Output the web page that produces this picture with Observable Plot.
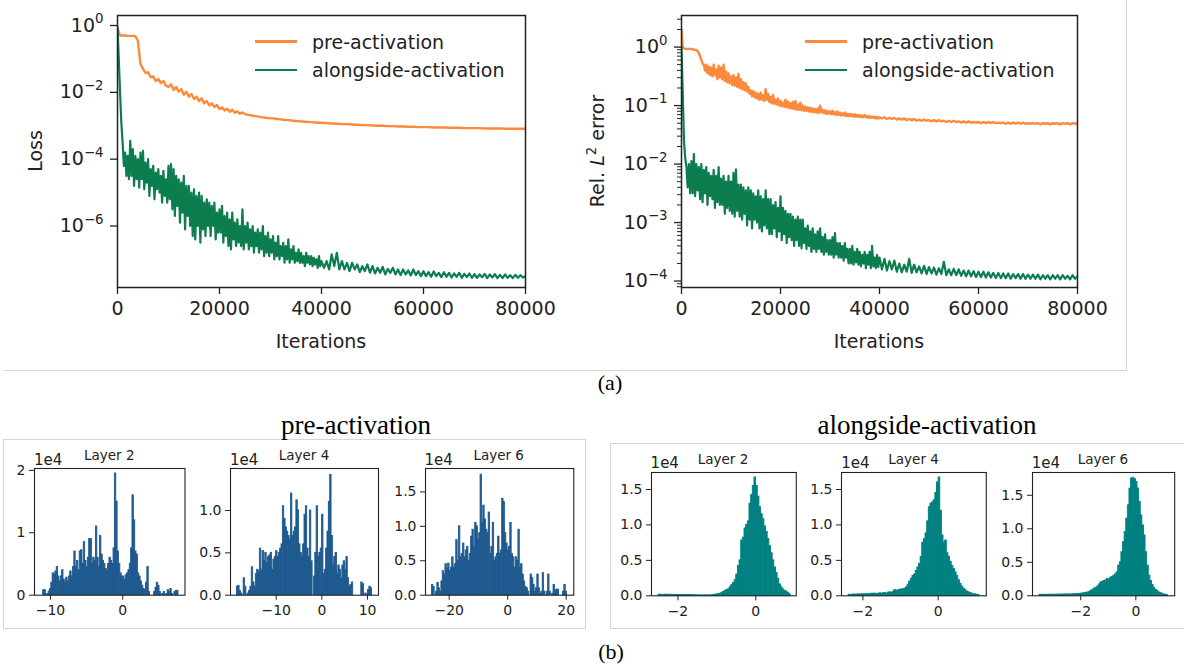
<!DOCTYPE html>
<html>
<head>
<meta charset="utf-8">
<script src="https://cdn.jsdelivr.net/npm/d3@7"></script>
<script src="https://cdn.jsdelivr.net/npm/@observablehq/plot@0.6"></script>
<style>
html,body{margin:0;padding:0;background:#fff;}
#fig{position:relative;width:1184px;height:665px;overflow:hidden;background:#fff;font-family:"DejaVu Sans",sans-serif;color:#222;}
#fig svg{position:absolute;overflow:visible;}
.t{position:absolute;white-space:nowrap;line-height:1;}
.serif{font-family:"Liberation Serif","Times New Roman",serif;color:#000;}
.rule{position:absolute;background:#d6d6d6;}
</style>
</head>
<body>
<div id="fig"></div>
<script>
// ================= DATA =================
const seriesNames = ["pre-activation", "alongside-activation"];
const iterTicks = [0, 20000, 40000, 60000, 80000];
const lossTicks = [1e-6, 1e-4, 1e-2, 1];
const errTicks = [1e-4, 1e-3, 1e-2, 1e-1, 1];

// sample positions (iterations) of the smooth curve
const iterCoarse = [
0,500,1000,1500,2000,2500,3000,3500,4000,4500,
5000,5500,6000,6500,7000,7500,8000,8500,9000,9500,
10000,10500,11000,11500,12000,12500,13000,13500,14000,14500,
15000,15500,16000,16500,17000,17500,18000,18500,19000,19500,
20000,20500,21000,21500,22000,22500,23000,23500,24000,24500,
25000,25500,26000,26500,27000,27500,28000,28500,29000,29500,
30000,30500,31000,31500,32000,32500,33000,33500,34000,34500,
35000,35500,36000,36500,37000,37500,38000,38500,39000,39500,
40000,
41000,42000,43000,44000,45000,46000,47000,48000,49000,50000,
51000,52000,53000,54000,55000,56000,57000,58000,59000,60000,
61000,62000,63000,64000,65000,66000,67000,68000,69000,70000,
71000,72000,73000,74000,75000,76000,77000,78000,79000,80000];

// sample positions (iterations) of the noisy curves
const iterDense = [
0,250,500,750,1000,1250,1500,1750,
2000,2250,2500,2750,3000,3250,3500,3750,
4000,4250,4500,4750,5000,5250,5500,5750,
6000,6250,6500,6750,7000,7250,7500,7750,
8000,8250,8500,8750,9000,9250,9500,9750,
10000,10250,10500,10750,11000,11250,11500,11750,
12000,12250,12500,12750,13000,13250,13500,13750,
14000,14250,14500,14750,15000,15250,15500,15750,
16000,16250,16500,16750,17000,17250,17500,17750,
18000,18250,18500,18750,19000,19250,19500,19750,
20000,20250,20500,20750,21000,21250,21500,21750,
22000,22250,22500,22750,23000,23250,23500,23750,
24000,24250,24500,24750,25000,25250,25500,25750,
26000,26250,26500,26750,27000,27250,27500,27750,
28000,28250,28500,28750,29000,29250,29500,29750,
30000,30250,30500,30750,31000,31250,31500,31750,
32000,32250,32500,32750,33000,33250,33500,33750,
34000,34250,34500,34750,35000,35250,35500,35750,
36000,36250,36500,36750,37000,37250,37500,37750,
38000,38250,38500,38750,39000,39250,39500,39750,
40000,
40500,41000,41500,42000,42500,43000,43500,44000,44500,45000,
45500,46000,46500,47000,47500,48000,48500,49000,49500,50000,
50500,51000,51500,52000,52500,53000,53500,54000,54500,55000,
55500,56000,56500,57000,57500,58000,58500,59000,59500,60000,
60500,61000,61500,62000,62500,63000,63500,64000,64500,65000,
65500,66000,66500,67000,67500,68000,68500,69000,69500,70000,
70500,71000,71500,72000,72500,73000,73500,74000,74500,75000,
75500,76000,76500,77000,77500,78000,78500,79000,79500,80000];

// log10 of the training loss (pre-activation: iterCoarse)
const lossPreExp = [
-0.07,-0.3,-0.3,-0.3,-0.31,-0.31,-0.31,-0.32,-0.46,-1.15,
-1.3,-1.42,-1.4,-1.55,-1.52,-1.66,-1.6,-1.72,-1.66,-1.8,
-1.84,-1.76,-1.93,-1.84,-1.98,-1.9,-2.07,-1.98,-2.13,-2.05,
-2.2,-2.13,-2.26,-2.18,-2.33,-2.26,-2.39,-2.33,-2.44,-2.38,
-2.5,-2.45,-2.54,-2.49,-2.58,-2.52,-2.61,-2.57,-2.64,-2.6,
-2.65,-2.67,-2.68,-2.7,-2.71,-2.72,-2.74,-2.75,-2.76,-2.77,
-2.78,-2.78,-2.79,-2.8,-2.81,-2.82,-2.83,-2.83,-2.84,-2.85,
-2.86,-2.86,-2.87,-2.88,-2.88,-2.89,-2.89,-2.9,-2.9,-2.91,
-2.91,
-2.92,-2.93,-2.94,-2.95,-2.95,-2.96,-2.97,-2.98,-2.98,-2.99,
-3.0,-3.0,-3.01,-3.01,-3.02,-3.02,-3.03,-3.03,-3.04,-3.04,
-3.04,-3.05,-3.05,-3.05,-3.06,-3.06,-3.06,-3.07,-3.07,-3.07,
-3.07,-3.08,-3.08,-3.08,-3.08,-3.09,-3.09,-3.09,-3.09,-3.09];
// (alongside-activation: iterDense)
const lossAlongExp = [
-0.05,-1.0,-2.0,-2.9,-3.5,-4.2,-3.8,-4.5,
-3.9,-4.6,-3.45,-4.5,-3.7,-4.8,-3.9,-4.6,
-4.0,-4.85,-3.8,-4.6,-3.75,-4.9,-4.1,-4.7,
-4.0,-5.1,-4.3,-4.8,-4.2,-5.2,-4.4,-4.9,
-4.3,-5.0,-4.5,-5.3,-4.35,-5.1,-4.6,-5.3,
-4.2,-5.2,-4.15,-5.5,-4.3,-5.7,-4.5,-5.4,
-4.6,-5.9,-4.7,-5.6,-4.5,-6.1,-4.8,-5.7,
-4.8,-6.0,-5.0,-6.3,-4.9,-6.4,-5.1,-6.0,
-5.0,-6.5,-5.1,-6.1,-5.3,-6.3,-5.2,-6.0,
-5.3,-6.3,-5.4,-6.0,-5.3,-6.4,-5.6,-6.2,
-5.5,-6.2,-5.4,-6.5,-5.7,-6.3,-5.6,-6.6,
-5.8,-6.7,-5.6,-6.4,-5.9,-6.6,-5.8,-6.5,
-6.0,-6.6,-5.5,-6.7,-6.0,-6.5,-5.9,-6.7,
-6.1,-6.6,-6.0,-6.8,-6.2,-6.6,-6.1,-6.8,
-6.2,-6.7,-6.0,-6.9,-6.3,-6.8,-6.2,-6.9,
-6.4,-6.8,-6.3,-7.0,-6.5,-6.9,-6.3,-7.0,
-6.6,-6.9,-6.5,-7.1,-6.6,-7.0,-6.4,-7.1,
-6.7,-7.0,-6.6,-7.1,-6.8,-7.05,-6.7,-7.1,
-6.8,-7.1,-6.9,-7.2,-6.8,-7.1,-6.9,-7.15,
-6.9,-7.2,-6.95,-7.15,-7.0,-7.25,-6.9,-7.2,
-7.05,
-7.25,-7.05,-7.3,-6.85,-7.2,-6.8,-7.3,-7.05,-7.3,-7.1,
-7.35,-7.1,-7.3,-7.15,-7.38,-7.2,-7.35,-7.15,-7.4,-7.2,
-7.42,-7.25,-7.4,-7.22,-7.45,-7.28,-7.4,-7.25,-7.45,-7.3,
-7.47,-7.3,-7.45,-7.33,-7.48,-7.3,-7.47,-7.35,-7.5,-7.35,
-7.5,-7.38,-7.52,-7.36,-7.5,-7.4,-7.53,-7.38,-7.52,-7.4,
-7.54,-7.42,-7.52,-7.4,-7.55,-7.43,-7.53,-7.42,-7.55,-7.44,
-7.55,-7.45,-7.53,-7.43,-7.56,-7.45,-7.54,-7.44,-7.56,-7.46,
-7.56,-7.45,-7.55,-7.47,-7.56,-7.46,-7.55,-7.47,-7.54,-7.5];

// log10 of the relative L2 error (both on iterDense)
const errPreExp = [
0.3,0.0,-0.02,-0.03,-0.03,-0.03,-0.03,-0.03,
-0.03,-0.04,-0.04,-0.05,-0.05,-0.07,-0.1,-0.16,
-0.22,-0.28,-0.3,-0.4,-0.3,-0.45,-0.33,-0.48,
-0.35,-0.5,-0.3,-0.48,-0.38,-0.55,-0.32,-0.52,
-0.35,-0.55,-0.3,-0.58,-0.42,-0.6,-0.45,-0.62,
-0.5,-0.65,-0.48,-0.66,-0.52,-0.68,-0.46,-0.7,
-0.55,-0.72,-0.6,-0.74,-0.62,-0.76,-0.68,-0.8,
-0.74,-0.84,-0.75,-0.86,-0.78,-0.88,-0.8,-0.9,
-0.78,-0.9,-0.82,-0.92,-0.72,-0.9,-0.8,-0.94,
-0.85,-0.96,-0.82,-0.97,-0.9,-0.98,-0.88,-1.0,
-0.92,-1.01,-0.95,-1.02,-0.9,-1.03,-0.93,-1.04,
-0.96,-1.05,-0.94,-1.06,-0.92,-1.07,-0.98,-1.07,
-0.95,-1.08,-1.0,-1.09,-1.02,-1.09,-1.03,-1.1,
-1.04,-1.11,-1.05,-1.11,-1.06,-1.12,-1.05,-1.12,
-1.0,-1.12,-1.07,-1.13,-1.08,-1.14,-1.09,-1.14,
-1.1,-1.15,-1.09,-1.15,-1.11,-1.16,-1.1,-1.16,
-1.12,-1.17,-1.13,-1.17,-1.12,-1.18,-1.14,-1.18,
-1.14,-1.18,-1.15,-1.19,-1.15,-1.19,-1.16,-1.19,
-1.16,-1.2,-1.17,-1.2,-1.16,-1.2,-1.18,-1.21,
-1.18,-1.21,-1.19,-1.21,-1.19,-1.22,-1.19,-1.22,
-1.2,
-1.22,-1.2,-1.23,-1.21,-1.23,-1.21,-1.24,-1.22,-1.24,-1.22,
-1.25,-1.23,-1.25,-1.23,-1.26,-1.24,-1.26,-1.24,-1.26,-1.25,
-1.27,-1.25,-1.27,-1.25,-1.27,-1.26,-1.28,-1.26,-1.28,-1.26,
-1.28,-1.27,-1.29,-1.27,-1.29,-1.27,-1.29,-1.28,-1.29,-1.28,
-1.3,-1.28,-1.3,-1.28,-1.3,-1.28,-1.3,-1.29,-1.3,-1.29,
-1.31,-1.29,-1.31,-1.29,-1.31,-1.29,-1.31,-1.29,-1.31,-1.3,
-1.31,-1.3,-1.31,-1.3,-1.32,-1.3,-1.31,-1.3,-1.32,-1.3,
-1.31,-1.3,-1.32,-1.3,-1.31,-1.3,-1.32,-1.3,-1.31,-1.3];
const errAlongExp = [
0,-0.8,-1.6,-1.9,-2.05,-2.4,-2.0,-2.5,
-1.95,-2.5,-1.83,-2.55,-2.0,-2.45,-2.05,-2.6,
-2.0,-2.65,-2.1,-2.5,-2.05,-2.7,-2.15,-2.55,
-2.2,-2.6,-2.1,-2.75,-2.2,-2.65,-2.05,-2.7,
-2.25,-2.7,-2.2,-2.85,-2.3,-2.75,-2.2,-2.8,
-2.3,-2.85,-2.15,-2.9,-2.09,-2.8,-2.35,-2.9,
-2.35,-2.95,-2.4,-2.85,-2.45,-3.05,-2.4,-2.95,
-2.45,-3.1,-2.5,-2.95,-2.55,-3.0,-2.45,-3.1,
-2.55,-3.15,-2.6,-3.05,-2.45,-3.1,-2.6,-3.2,
-2.6,-3.2,-2.7,-3.1,-2.65,-3.25,-2.75,-3.15,
-2.55,-3.3,-2.75,-3.2,-2.8,-3.35,-2.85,-3.25,
-2.85,-3.3,-2.9,-3.4,-2.95,-3.3,-2.9,-3.4,
-2.95,-3.44,-2.95,-3.35,-3.1,-3.45,-3.05,-3.4,
-3.15,-3.5,-3.1,-3.45,-3.2,-3.5,-3.15,-3.45,
-3.1,-3.5,-3.25,-3.55,-3.2,-3.5,-3.3,-3.55,
-3.3,-3.55,-3.25,-3.6,-3.18,-3.55,-3.35,-3.6,
-3.35,-3.6,-3.4,-3.65,-3.35,-3.6,-3.45,-3.7,
-3.45,-3.7,-3.4,-3.72,-3.5,-3.68,-3.45,-3.72,
-3.5,-3.75,-3.55,-3.7,-3.5,-3.78,-3.55,-3.72,
-3.5,-3.78,-3.4,-3.75,-3.6,-3.78,-3.55,-3.76,
-3.6,
-3.8,-3.62,-3.82,-3.66,-3.8,-3.65,-3.84,-3.7,-3.85,-3.72,
-3.84,-3.62,-3.86,-3.72,-3.85,-3.75,-3.87,-3.74,-3.88,-3.76,
-3.87,-3.77,-3.89,-3.78,-3.88,-3.67,-3.9,-3.8,-3.9,-3.79,
-3.9,-3.8,-3.91,-3.82,-3.92,-3.82,-3.92,-3.83,-3.93,-3.84,
-3.93,-3.84,-3.94,-3.85,-3.94,-3.86,-3.95,-3.86,-3.95,-3.87,
-3.95,-3.87,-3.96,-3.88,-3.95,-3.88,-3.96,-3.88,-3.96,-3.89,
-3.96,-3.89,-3.96,-3.89,-3.97,-3.9,-3.96,-3.9,-3.97,-3.9,
-3.96,-3.9,-3.97,-3.9,-3.96,-3.91,-3.97,-3.9,-3.96,-3.92];

// Histograms: counts in units of 1e4, equal-width bins over [lo, hi]
const layerNames = ["Layer 2", "Layer 4", "Layer 6"];
const preL2 = [
0.08,0.08,0,0.02,0.06,0.1,0.2,0.35,0.33,0.38,
0.45,0.3,0.22,0.3,0.4,0.25,0.2,0.28,0.22,0.3,
0.38,0.3,0.45,0.7,0.45,0.55,0.4,0.7,0.72,0.5,
0.85,0.55,0.45,0.6,0.9,0.9,0.5,0.6,0.55,1.1,
0.6,0.45,0.95,0.65,0.55,0.5,0.42,0.38,0.5,0.6,
0.55,0.5,0.75,1.95,1.5,0.7,0.5,0.35,0.3,0.3,
0.25,0.32,0.35,0.4,0.5,0.75,1.6,1.2,0.7,0.65,
0.35,0.3,0.22,0.15,0.1,0.08,0.2,0.45,0.05,0,
0,0,0.05,0.12,0.2,0.15,0.05,0,0.02,0.05,
0,0.02,0.08,0.05,0.1,0.02,0,0.05,0.07,0.07];
const preL4 = [
0.1,0.11,0.05,0.02,0,0.2,0.1,0,0.02,0.05,
0.1,0.33,0.15,0.1,0.25,0.3,0.28,0.55,0.3,0.52,
0.4,0.5,0.38,0.45,0.47,0.5,0.3,0.42,0.45,0.52,
0.45,0.5,0.55,0.6,1.05,0.9,0.8,0.75,0.7,0.65,
1.2,0.7,0.75,0.8,1.12,1.0,0.6,0.5,0.45,0.6,
0.95,1.05,0.55,0.45,1.0,0.4,0,0.22,0.5,1.05,
0.45,0.5,0.55,0.95,0.25,0.3,0.55,0.75,1.1,1.42,
0.7,0.35,0.45,0.5,0.25,0.35,0.3,0.2,0.35,0.4,
0.3,0.45,0.2,0.1,0.12,0.15,0,0,0,0,
0,0,0.15,0.13,0,0.02,0,0.06,0.1,0.08];
const preL6 = [
0.15,0.12,0,0.05,0.18,0.1,0.05,0.2,0.35,0.3,
0.45,0.38,0.46,0.35,0.4,0.55,0.4,0.45,0.8,0.5,
1.0,0.55,0.6,0.75,0.55,0.65,0.7,0.5,0.6,0.85,
0.95,0.7,1.05,1.0,0.8,0.9,1.75,1.05,1.3,1.1,
0.95,0.9,1.2,0.6,0.7,1.05,0.5,0.55,0.6,0.85,
0.6,0.65,1.4,1.35,0.9,0.75,0.65,0.7,1.05,0.6,
0.55,0.4,0.55,0.5,0.95,0.4,0.45,0.3,0.2,0.12,
0.1,0.05,0,0.3,0.25,0.15,0.05,0.1,0.3,0.1,
0.02,0.05,0.32,0.05,0,0.05,0.3,0.05,0,0.02,
0.15,0.05,0.08,0.08,0,0,0,0.05,0.15,0.05];
const alongL2 = [
0.015,0.015,0.012,0.015,0.014,0.015,0.013,0.014,0.012,0.013,
0.012,0.013,0.012,0.011,0.012,0.012,0.011,0.01,0.011,0.01,
0.01,0.008,0.007,0.006,0.006,0.005,0.005,0.005,0.006,0.005,
0.005,0.006,0.008,0.01,0.014,0.02,0.025,0.03,0.04,0.055,
0.07,0.08,0.09,0.12,0.15,0.18,0.22,0.3,0.42,0.5,
0.78,0.82,0.95,1.0,1.05,1.3,1.42,1.55,1.67,1.55,
1.4,1.25,1.15,1.08,0.98,0.9,0.8,0.7,0.6,0.5,
0.4,0.32,0.24,0.16,0.12,0.09,0.07,0.06,0.04,0.02];
const alongL4 = [
0.015,0.012,0.015,0.018,0.015,0.018,0.02,0.018,0.02,0.022,
0.02,0.025,0.022,0.025,0.03,0.028,0.03,0.025,0.03,0.035,
0.03,0.035,0.04,0.03,0.045,0.05,0.04,0.06,0.08,0.07,
0.08,0.085,0.09,0.09,0.1,0.12,0.15,0.2,0.24,0.28,
0.3,0.35,0.4,0.45,0.55,0.75,0.8,0.88,1.05,1.25,
1.3,1.32,1.35,1.45,1.6,1.67,1.2,0.85,0.75,0.78,
0.6,0.55,0.48,0.42,0.38,0.33,0.28,0.22,0.17,0.13,
0.1,0.08,0.06,0.05,0.04,0.03,0.02,0.02,0.015,0.01];
const alongL6 = [
0.015,0.012,0.015,0.013,0.015,0.014,0.015,0.016,0.015,0.016,
0.015,0.017,0.016,0.018,0.017,0.018,0.02,0.018,0.02,0.02,
0.02,0.022,0.025,0.025,0.028,0.03,0.032,0.035,0.04,0.045,
0.05,0.06,0.08,0.09,0.11,0.12,0.14,0.17,0.2,0.21,
0.22,0.23,0.25,0.24,0.27,0.28,0.3,0.32,0.35,0.45,
0.5,0.65,0.8,0.95,1.15,1.35,1.6,1.75,1.76,1.74,
1.7,1.6,1.4,1.2,1.05,0.9,0.65,0.45,0.3,0.22,
0.16,0.12,0.09,0.07,0.05,0.04,0.03,0.02,0.015,0.01];
const preBinRanges = [[-11.0, 7.7], [-18.6, 11.0], [-25.9, 20.3]];
const alongBinRanges = [[-2.5, 0.9], [-2.38, 1.1], [-3.5, 1.17]];
const preXTicks = [[-10, 0], [-10, 0, 10], [-20, 0, 20]];
const alongXTicks = [[-2, 0], [-2, 0], [-2, 0]];
const preYTicks = [[0, 1, 2], [0, 0.5, 1], [0, 0.5, 1, 1.5]];
const alongYTicks = [[0, 0.5, 1, 1.5], [0, 0.5, 1, 1.5], [0, 0.5, 1, 1.5]];

// ================= DRAWING =================
const ORANGE = "#fd8a3b", GREEN = "#0b7d4e", BLUE = "#1f5a8f", TEAL = "#008080", INK = "#222";
const fig = document.getElementById("fig");

function rule(x, y, w, h) {
  const d = document.createElement("div");
  d.className = "rule";
  Object.assign(d.style, {left: x + "px", top: y + "px", width: w + "px", height: h + "px"});
  fig.appendChild(d);
}
function text(html, x, y, opt = {}) {
  const d = document.createElement("div");
  d.className = "t" + (opt.cls ? " " + opt.cls : "");
  d.innerHTML = html;
  d.style.left = x + "px";
  d.style.top = y + "px";
  d.style.fontSize = (opt.size || 19) + "px";
  const ax = opt.align === "left" ? "0" : "-50%";
  d.style.transform = `translate(${ax},-50%)` + (opt.rotate ? ` rotate(${opt.rotate}deg)` : "");
  fig.appendChild(d);
}
function place(svg, left, top) {
  svg.style.left = left + "px";
  svg.style.top = top + "px";
  fig.appendChild(svg);
}
const minusFmt = d => (d < 0 ? "\u2212" + (-d) : String(d));
function superscripts(svg) {
  d3.select(svg).selectAll('g[aria-label="y-axis tick label"] text').each(function () {
    const t = this.textContent;
    if (!t) return;
    const s = d3.select(this);
    s.text(null);
    s.append("tspan").text("10");
    s.append("tspan").attr("dy", "-0.62em").attr("font-size", "0.7em").text(t.replace("-", "\u2212"));
  });
}

// gray panel borders
rule(1126, 0, 1, 371);
rule(4, 370, 1122, 1);
rule(3, 439, 583, 1); rule(3, 439, 1, 189); rule(585, 439, 1, 189); rule(3, 628, 583, 1);
rule(610, 443, 574, 1); rule(610, 443, 1, 185); rule(610, 628, 574, 1);

const toRows = (its, exps) => its.map((it, i) => ({it, v: 10 ** exps[i]})).filter(r => isFinite(r.v));

function curvePanel(o) {
  const ml = 110, mr = 14, mt = 15, mb = 45;
  const w = o.x1 - o.x0, h = o.y1 - o.y0;
  const marks = [];
  if (o.minor) marks.push(Plot.axisY({ticks: o.minor, tickSize: 4, tickFormat: () => "", label: null, stroke: INK}));
  marks.push(
    Plot.axisY({ticks: o.majors, tickSize: 7, tickPadding: 7, tickFormat: d => String(Math.round(Math.log10(d))), label: null, stroke: INK, strokeWidth: 1.3}),
    Plot.axisX({ticks: iterTicks, tickSize: 7, tickPadding: 7, tickFormat: d => String(d), label: null, stroke: INK, strokeWidth: 1.3}),
    Plot.line(o.pre, {x: "it", y: "v", stroke: ORANGE, strokeWidth: 2.4, clip: true}),
    Plot.line(o.along, {x: "it", y: "v", stroke: GREEN, strokeWidth: 2.2, clip: true}),
    Plot.frame({stroke: INK, strokeWidth: 1.5})
  );
  const svg = Plot.plot({
    width: w + ml + mr, height: h + mt + mb,
    marginLeft: ml, marginRight: mr, marginTop: mt, marginBottom: mb,
    style: {fontFamily: "'DejaVu Sans', sans-serif", fontSize: "19px", color: INK, background: "none", overflow: "visible"},
    x: {domain: [0, 80000]},
    y: {type: "log", domain: o.yDomain},
    marks
  });
  superscripts(svg);
  place(svg, o.x0 - ml, o.y0 - mt);
  const lx = o.legendX;
  [[ORANGE, seriesNames[0], 41.5], [GREEN, seriesNames[1], 70]].forEach(([c, name, y]) => {
    const sw = document.createElement("div");
    Object.assign(sw.style, {position: "absolute", left: lx + "px", top: (y - 1.3) + "px", width: "42px", height: "2.6px", background: c});
    fig.appendChild(sw);
    text(name, lx + 57, y, {align: "left", size: 19});
  });
  text("Iterations", (o.x0 + o.x1) / 2, 341, {size: 19});
  text(o.ylabel, o.ylabelX, (o.y0 + o.y1) / 2, {size: 19, rotate: -90});
}

const errMinor = [];
for (let k = -5; k <= 0; k++) for (let m = 2; m <= 9; m++) {
  const v = m * 10 ** k;
  if (v > 10 ** -4.11 && v < 10 ** 0.54) errMinor.push(v);
}

curvePanel({x0: 117, x1: 525, y0: 15, y1: 287, yDomain: [10 ** -7.84, 10 ** 0.3],
  majors: lossTicks, pre: toRows(iterCoarse, lossPreExp), along: toRows(iterDense, lossAlongExp), legendX: 255,
  ylabel: "Loss", ylabelX: 35});
curvePanel({x0: 681, x1: 1077, y0: 15, y1: 287, yDomain: [10 ** -4.11, 10 ** 0.54],
  majors: errTicks, minor: errMinor, pre: toRows(iterDense, errPreExp), along: toRows(iterDense, errAlongExp), legendX: 805,
  ylabel: 'Rel. <i>L</i><span style="font-size:0.7em;position:relative;top:-0.6em">2</span> error', ylabelX: 597});

function histPanel(o) {
  const ml = 45, mr = 10, mt = 10, mb = 30;
  const w = o.x1 - o.x0, h = o.y1 - o.y0;
  const n = o.counts.length, bw = (o.range[1] - o.range[0]) / n;
  const bins = o.counts.map((c, i) => ({a: o.range[0] + i * bw, b: o.range[0] + (i + 1) * bw, c}));
  const svg = Plot.plot({
    width: w + ml + mr, height: h + mt + mb,
    marginLeft: ml, marginRight: mr, marginTop: mt, marginBottom: mb,
    style: {fontFamily: "'DejaVu Sans', sans-serif", fontSize: "14px", color: INK, background: "none", overflow: "visible"},
    x: {domain: o.xDomain},
    y: {domain: o.yDomain},
    marks: [
      Plot.rectY(bins, {x1: "a", x2: "b", y: "c", fill: o.color, stroke: o.color, strokeWidth: 0.9}),
      Plot.axisX({ticks: o.xTicks, tickFormat: minusFmt, tickSize: 5, tickPadding: 5, label: null, stroke: INK}),
      Plot.axisY({ticks: o.yTicks, tickFormat: o.yFmt, tickSize: 5, tickPadding: 4, label: null, stroke: INK}),
      Plot.frame({stroke: INK, strokeWidth: 1.1})
    ]
  });
  place(svg, o.x0 - ml, o.y0 - mt);
  text(o.title, (o.x0 + o.x1) / 2, o.y0 - 12, {size: 13.5});
  text("1e4", o.x0, o.y0 - 8.5, {size: 15, align: "left"});
}

const fmtInt = d => String(d);
const fmt1 = d => d.toFixed(1);
const preFrames = [[34, 184.5], [230, 378], [424.5, 572.8]];
const preXDomains = [[-12.2, 8.6], [-20.0, 12.4], [-28.1, 22.6]];
const preYDomains = [[0, 2.03], [0, 1.496], [0, 1.84]];
const preCounts = [preL2, preL4, preL6];
preCounts.forEach((counts, i) => histPanel({
  x0: preFrames[i][0], x1: preFrames[i][1], y0: 468.3, y1: 595,
  xDomain: preXDomains[i], yDomain: preYDomains[i], range: preBinRanges[i], counts,
  color: BLUE, xTicks: preXTicks[i], yTicks: preYTicks[i], yFmt: i === 0 ? fmtInt : fmt1,
  title: layerNames[i]}));

const alongFrames = [[650.6, 795.4], [841.2, 986], [1031.8, 1174]];
const alongXDomains = [[-2.68, 1.04], [-2.57, 1.28], [-3.75, 1.41]];
const alongYDomains = [[0, 1.74], [0, 1.74], [0, 1.84]];
const alongCounts = [alongL2, alongL4, alongL6];
alongCounts.forEach((counts, i) => histPanel({
  x0: alongFrames[i][0], x1: alongFrames[i][1], y0: 471.7, y1: 595,
  xDomain: alongXDomains[i], yDomain: alongYDomains[i], range: alongBinRanges[i], counts,
  color: TEAL, xTicks: alongXTicks[i], yTicks: alongYTicks[i], yFmt: fmt1,
  title: layerNames[i]}));

text(seriesNames[0], 356, 425, {cls: "serif", size: 27});
text(seriesNames[1], 927, 425, {cls: "serif", size: 27});
text("(a)", 610, 383, {cls: "serif", size: 22});
text("(b)", 611, 652, {cls: "serif", size: 22});
</script>
</body>
</html>
